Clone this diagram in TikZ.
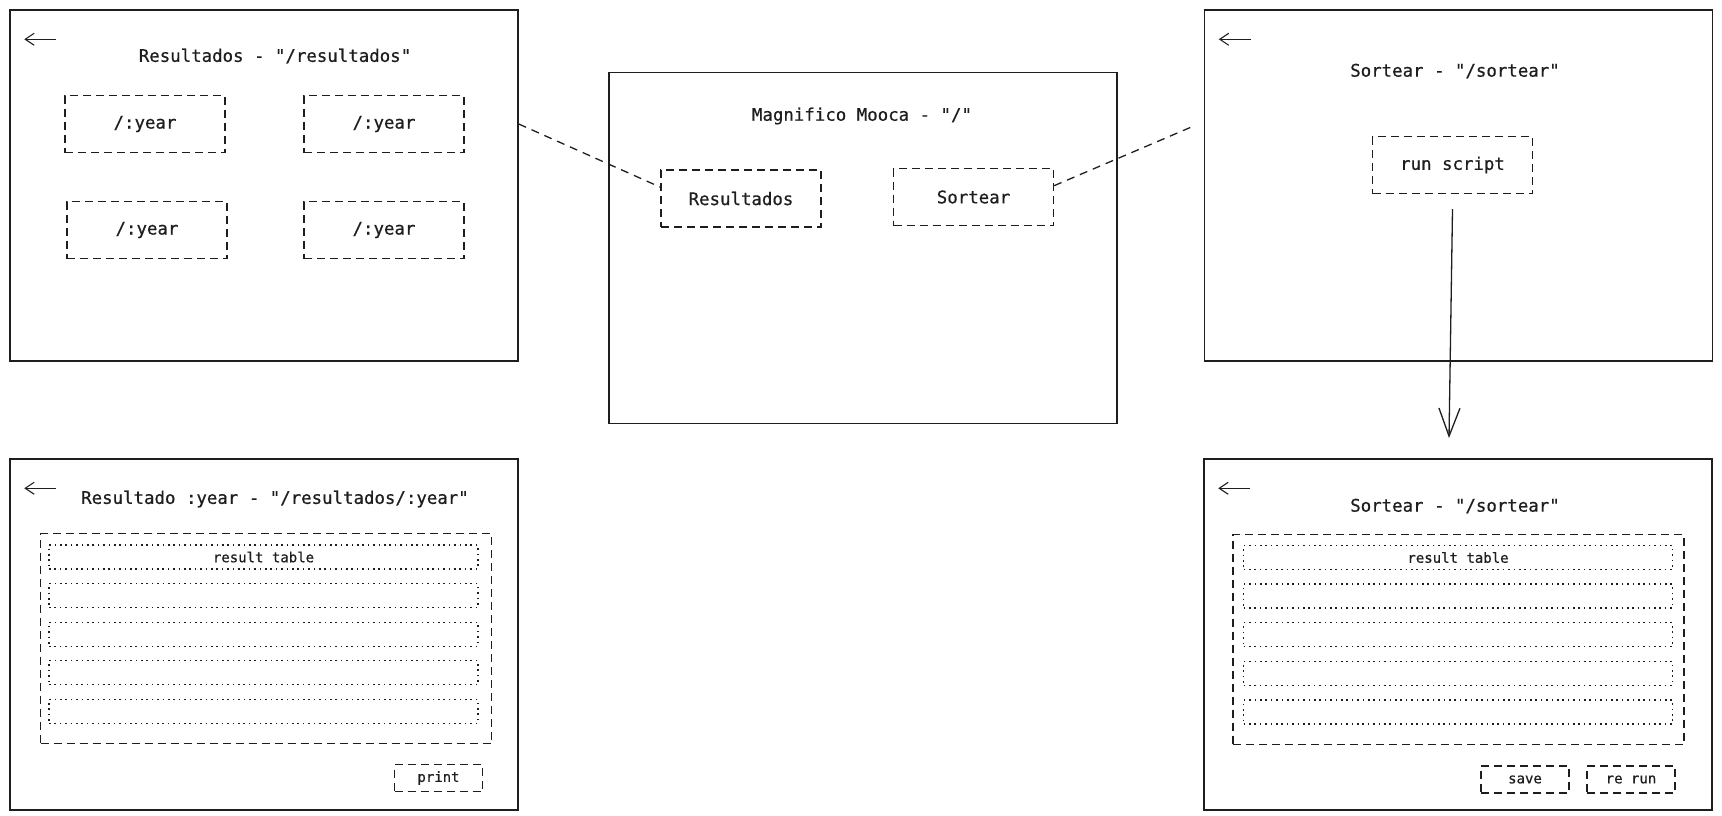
\documentclass[tikz,border=0pt]{standalone}
\usepackage{fontspec}
\newfontfamily\sketchfont[FakeBold=0.6]{DejaVu Sans Mono}
\usetikzlibrary{arrows.meta}

\definecolor{ink}{HTML}{1E1E1E}

\tikzset{
  screen/.style={draw=ink, line width=1.5pt, minimum width=508pt, minimum height=351pt, inner sep=0pt},
  heading/.style={text=ink, font=\sketchfont\fontsize{17.4}{21}\selectfont},
  button/.style={draw=ink, line width=1.3pt, dash pattern=on 8pt off 5pt, text=ink,
    font=\sketchfont\fontsize{17.4}{21}\selectfont, minimum width=160pt, minimum height=57pt, inner sep=0pt},
  smallbutton/.style={button, font=\sketchfont\fontsize{14}{17}\selectfont, minimum width=88pt, minimum height=27pt},
  resulttable/.style={draw=ink, line width=1.3pt, dash pattern=on 8pt off 5pt, minimum width=451pt, minimum height=210pt, inner sep=0pt},
  tablerow/.style={draw=ink, line width=1.3pt, dash pattern=on 1.6pt off 3.8pt, text=ink,
    font=\sketchfont\fontsize{14}{17}\selectfont, minimum width=429pt, minimum height=24pt, inner sep=0pt},
  navlink/.style={draw=ink, line width=1.3pt, dash pattern=on 8pt off 6pt},
  goback/.style={draw=ink, line width=1.1pt, -{Straight Barb[length=9pt,width=12pt]}},
}

\begin{document}
\begin{tikzpicture}[x=1pt, y=-1pt]
\useasboundingbox (0,0) rectangle (1722,815);

% screens
\node[screen] (resultados) at (264,185.5) {};
\node[screen] (home) at (863,248) {};
\node[screen] (sortear) at (1458.5,185.5) {};
\node[screen] (resultado) at (264,634.5) {};
\node[screen] (sorteado) at (1458,634.5) {};

% back arrows
\foreach \s in {resultados,sortear,resultado,sorteado}
  \draw[goback] ([xshift=47pt,yshift=-30pt]\s.north west) -- ++(-32,0);

% home
\node[heading] (homettl) at (862,116) {Magnifico Mooca - "/"};
\node[button] (mres) at (741,198.5) {Resultados};
\node[button] (msort) at (973.5,197) {Sortear};

% resultados
\node[heading] (resttl) at (275,56) {Resultados - "/resultados"};
\node[button] (year1) at (145,124) {/:year};
\node[button] (year2) at (384,124) {/:year};
\node[button] (year3) at (147,230) {/:year};
\node[button] (year4) at (384,230) {/:year};

% sortear
\node[heading] (sortttl) at (1455,71) {Sortear - "/sortear"};
\node[button] (run) at (1452.5,165) {run script};

% resultado :year
\node[heading] (yearttl) at (275,499) {Resultado :year - "/resultados/:year"};
\node[resulttable] (yeartable) at (266,638.5) {};
\node[tablerow] (yearrow0) at (263.5,557) {result table};
\foreach \i in {1,...,4}
  \node[tablerow] (yearrow\i) at (263.5,557+38.6*\i) {};
\node[smallbutton] (print) at (438.5,778) {print};

% sorteado
\node[heading] (drawttl) at (1455,506) {Sortear - "/sortear"};
\node[resulttable] (drawtable) at (1458.5,639.5) {};
\node[tablerow] (drawrow0) at (1458,557.5) {result table};
\foreach \i in {1,...,4}
  \node[tablerow] (drawrow\i) at (1458,557.5+38.6*\i) {};
\node[smallbutton] (save) at (1525,779.5) {save};
\node[smallbutton] (rerun) at (1631,779.5) {re run};

% connectors
\draw[navlink] ([yshift=61.5pt]resultados.east) -- (mres.172);
\draw[navlink] (msort.8) -- ([xshift=-10pt,yshift=59.5pt]sortear.west);
\coordinate (runend) at (1449,438);
\draw[ink, line width=1.3pt, -{Straight Barb[length=28pt,width=21pt]}] ([yshift=-15pt]run.south) -- (runend);
\end{tikzpicture}
\end{document}
